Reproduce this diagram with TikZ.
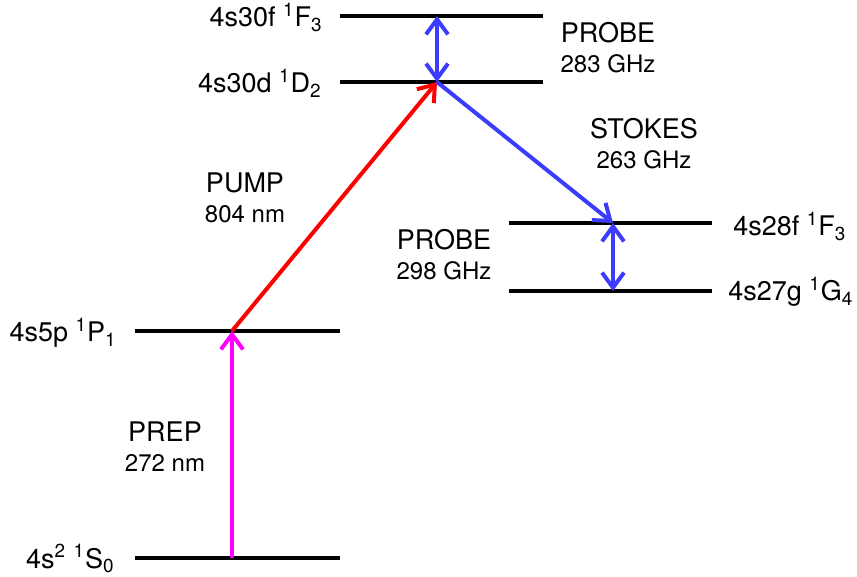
\documentclass[tikz,border=0pt]{standalone}
\usepackage{fontspec}
\setmainfont{TeX Gyre Heros}
\usetikzlibrary{arrows.meta, positioning}
\definecolor{pumpred}{RGB}{255,0,0}
\definecolor{prepmagenta}{RGB}{255,0,255}
\definecolor{probeblue}{RGB}{60,60,255}
\tikzset{
  level/.style = {line width=2pt, color=black},
  lvl/.style   = {inner sep=0pt, font=\fontsize{13.5}{15}\selectfont},
  beam/.style  = {inner sep=0pt, align=center, font=\fontsize{13.5}{15}\selectfont},
  arr/.style   = {-{Straight Barb[length=7.5pt, width=11pt]}, line width=2pt},
  darr/.style  = {{Straight Barb[length=7.5pt, width=11pt]}-{Straight Barb[length=7.5pt, width=11pt]}, line width=2pt},
}
\newcommand{\beamsub}[1]{{\fontsize{12}{15}\selectfont #1}}

\begin{document}
\begin{tikzpicture}[x=0.5pt, y=-0.5pt]
  \useasboundingbox (0,0) rectangle (857,577);

  % Level ends
  \coordinate (f30L) at (340,16);  \coordinate (f30R) at (543,16);
  \coordinate (d30L) at (340,82);  \coordinate (d30R) at (543,82);
  \coordinate (f28L) at (509,223); \coordinate (f28R) at (712,223);
  \coordinate (g27L) at (509,291); \coordinate (g27R) at (712,291);
  \coordinate (p5L)  at (135,331); \coordinate (p5R)  at (340,331);
  \coordinate (s0L)  at (135,558); \coordinate (s0R)  at (340,558);

  % Transition points
  \coordinate (f30) at (437,16);
  \coordinate (d30) at (437,82);
  \coordinate (f28) at (613,223);
  \coordinate (g27) at (613,291);
  \coordinate (p5)  at (232,331);
  \coordinate (s0)  at (232,558);

  % Levels
  \draw[level] (f30L) -- (f30R);
  \draw[level] (d30L) -- (d30R);
  \draw[level] (f28L) -- (f28R);
  \draw[level] (g27L) -- (g27R);
  \draw[level] (p5L)  -- (p5R);
  \draw[level] (s0L)  -- (s0R);

  % Level labels
  \node[lvl, below left=5.5pt and 8.5pt of f30L, anchor=base east] (f30lbl) {4s30f \textsuperscript{1}F\textsubscript{3}};
  \node[lvl, below left=5.5pt and 9pt of d30L, anchor=base east] (d30lbl) {4s30d \textsuperscript{1}D\textsubscript{2}};
  \node[lvl, below left=5.5pt and 9pt of p5L, anchor=base east] (p5lbl) {4s5p \textsuperscript{1}P\textsubscript{1}};
  \node[lvl, below left=5pt and 10pt of s0L, anchor=base east] (s0lbl) {4s\textsuperscript{2} \textsuperscript{1}S\textsubscript{0}};
  \node[lvl, below right=6.5pt and 10.5pt of f28R, anchor=base west] (f28lbl) {4s28f \textsuperscript{1}F\textsubscript{3}};
  \node[lvl, below right=5pt and 8pt of g27R, anchor=base west] (g27lbl) {4s27g \textsuperscript{1}G\textsubscript{4}};

  % Transitions
  \draw[arr, prepmagenta] (s0) -- (p5);
  \draw[arr, pumpred] (p5) -- (d30);
  \draw[arr, probeblue] (d30) -- (f28);
  \draw[darr, probeblue] (d30) -- (f30);
  \draw[darr, probeblue] (g27) -- (f28);

  % Beam labels
  \node[beam] (prep)   at (165,447) {PREP\\\beamsub{272 nm}};
  \node[beam] (pump)   at (245,198) {PUMP\\\beamsub{804 nm}};
  \node[beam] (probehi) at (608,48) {PROBE\\\beamsub{283 GHz}};
  \node[beam] (stokes) at (644,144) {STOKES\\\beamsub{263 GHz}};
  \node[beam] (probelo) at (444,255) {PROBE\\\beamsub{298 GHz}};
\end{tikzpicture}
\end{document}
